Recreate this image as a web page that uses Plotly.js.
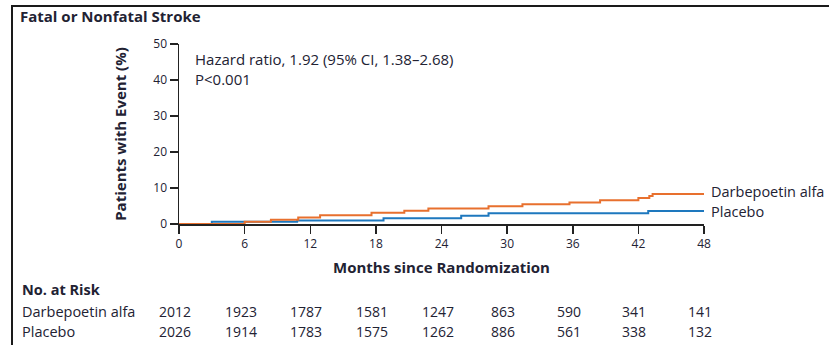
<!DOCTYPE html>
<html>
<head>
<meta charset="utf-8">
<script src="https://cdn.plot.ly/plotly-3.0.1.min.js"></script>
<style>
  html, body { margin: 0; padding: 0; background: #fff; }
  #wrap { position: relative; width: 829px; height: 345px; overflow: hidden; }
  #chart { position: absolute; left: 0; top: 0; width: 829px; height: 345px; }
  #frame { position: absolute; left: 11px; top: 5px; width: 830px; height: 360px;
           border-top: 2px solid #1a1a1a; border-left: 2px solid #1a1a1a; pointer-events: none; }
</style>
</head>
<body>
<div id="wrap">
  <div id="chart"></div>
  <div id="frame"></div>
</div>
<script>
// ---- data ----
const darbeMonths = [0, 6.0, 8.4, 10.9, 12.9, 17.6, 20.6, 22.8, 28.3, 31.4, 35.7, 38.5, 42.0, 43.0, 43.3, 48];
const darbePct    = [0, 0.6, 1.2, 1.8, 2.4, 3.1, 3.7, 4.3, 4.9, 5.5, 6.0, 6.6, 7.2, 7.8, 8.3, 8.3];
const placeboMonths = [0, 3.0, 10.8, 18.7, 25.8, 28.3, 42.9, 48];
const placeboPct    = [0, 0.6, 1.0, 1.6, 2.3, 3.0, 3.6, 3.6];

const riskMonths  = [0, 6, 12, 18, 24, 30, 36, 42, 48];
const darbeRisk   = [2012, 1923, 1787, 1581, 1247, 863, 590, 341, 141];
const placeboRisk = [2026, 1914, 1783, 1575, 1262, 886, 561, 338, 132];

const xTicks = [0, 6, 12, 18, 24, 30, 36, 42, 48];
const yTicks = [0, 10, 20, 30, 40, 50];

const seriesNames = ["Darbepoetin alfa", "Placebo"];
const chartTitle = "Fatal or Nonfatal Stroke";
const hrText = "Hazard ratio, 1.92 (95% CI, 1.38–2.68)<br>P<0.001";

// ---- styling ----
const FONT = "'Open Sans', Lato, sans-serif";
const TXT = "#222233";
const ORANGE = "#E8702E";
const BLUE = "#1E78BE";

const traces = [
  { x: placeboMonths, y: placeboPct, type: "scatter", mode: "lines",
    line: { shape: "hv", color: BLUE, width: 2 }, name: seriesNames[1], cliponaxis: false },
  { x: darbeMonths, y: darbePct, type: "scatter", mode: "lines",
    line: { shape: "hv", color: ORANGE, width: 2 }, name: seriesNames[0], cliponaxis: false }
];

// plot area: x 179..704, y 44..224
const L = 179, R = 704, T = 44, B = 224;
const W = R - L, H = B - T;
const px2x = p => (p - L) / W;
const py2y = p => (B - p) / H;

const annotations = [];
// end-of-line labels
annotations.push({ x: 48, y: darbePct[darbePct.length - 1], xref: "x", yref: "y",
  text: seriesNames[0], showarrow: false, xanchor: "left", yanchor: "middle", xshift: 5, yshift: 3,
  font: { family: FONT, size: 14.5, color: TXT } });
annotations.push({ x: 48, y: placeboPct[placeboPct.length - 1], xref: "x", yref: "y",
  text: seriesNames[1], showarrow: false, xanchor: "left", yanchor: "middle", xshift: 5, yshift: 0,
  font: { family: FONT, size: 14.5, color: TXT } });
// hazard ratio text
annotations.push({ x: px2x(193), y: py2y(47), xref: "paper", yref: "paper", text: hrText,
  showarrow: false, xanchor: "left", yanchor: "top", align: "left",
  font: { family: FONT, size: 15, color: TXT } });
// No. at risk
annotations.push({ x: px2x(20), y: py2y(289), xref: "paper", yref: "paper", text: "<b>No. at Risk</b>",
  showarrow: false, xanchor: "left", yanchor: "middle", font: { family: FONT, size: 14.5, color: TXT } });
annotations.push({ x: px2x(20), y: py2y(311), xref: "paper", yref: "paper", text: seriesNames[0],
  showarrow: false, xanchor: "left", yanchor: "middle", font: { family: FONT, size: 14.5, color: TXT } });
annotations.push({ x: px2x(20), y: py2y(331), xref: "paper", yref: "paper", text: seriesNames[1],
  showarrow: false, xanchor: "left", yanchor: "middle", font: { family: FONT, size: 14.5, color: TXT } });
riskMonths.forEach((m, i) => {
  annotations.push({ x: m, y: py2y(311), xref: "x", yref: "paper", text: String(darbeRisk[i]),
    showarrow: false, xanchor: "center", yanchor: "middle", xshift: -4,
    font: { family: FONT, size: 14, color: TXT } });
  annotations.push({ x: m, y: py2y(331), xref: "x", yref: "paper", text: String(placeboRisk[i]),
    showarrow: false, xanchor: "center", yanchor: "middle", xshift: -4,
    font: { family: FONT, size: 14, color: TXT } });
});

const layout = {
  width: 829, height: 345,
  margin: { l: L, r: 829 - R, t: T, b: 345 - B, pad: 0 },
  paper_bgcolor: "#fff", plot_bgcolor: "#fff",
  showlegend: false,
  font: { family: FONT, color: TXT },
  title: { text: "<b>" + chartTitle + "</b>", xref: "container", yref: "container",
           x: 20 / 829, y: 1 - 17 / 345, xanchor: "left", yanchor: "middle",
           font: { family: FONT, size: 15, color: TXT } },
  xaxis: {
    range: [0, 48], tickvals: xTicks, ticktext: xTicks.map(String),
    showgrid: false, zeroline: false, showline: true, linecolor: "#222", linewidth: 1.5,
    ticks: "outside", ticklen: 8, tickwidth: 1.5, tickcolor: "#222",
    tickfont: { family: FONT, size: 12, color: TXT },
    title: { text: "<b>Months since Randomization</b>", standoff: 11,
             font: { family: FONT, size: 15, color: TXT } },
    automargin: false, fixedrange: true
  },
  yaxis: {
    range: [0, 50], tickvals: yTicks, ticktext: yTicks.map(String),
    showgrid: false, zeroline: false, showline: true, linecolor: "#222", linewidth: 1.5,
    ticks: "outside", ticklen: 8, tickwidth: 1.5, tickcolor: "#222",
    tickfont: { family: FONT, size: 12, color: TXT },
    title: { text: "<b>Patients with Event (%)</b>", standoff: 23,
             font: { family: FONT, size: 15, color: TXT } },
    automargin: false, fixedrange: true
  },
  annotations: annotations
};

Plotly.newPlot("chart", traces, layout, { displayModeBar: false, staticPlot: true });
</script>
</body>
</html>
